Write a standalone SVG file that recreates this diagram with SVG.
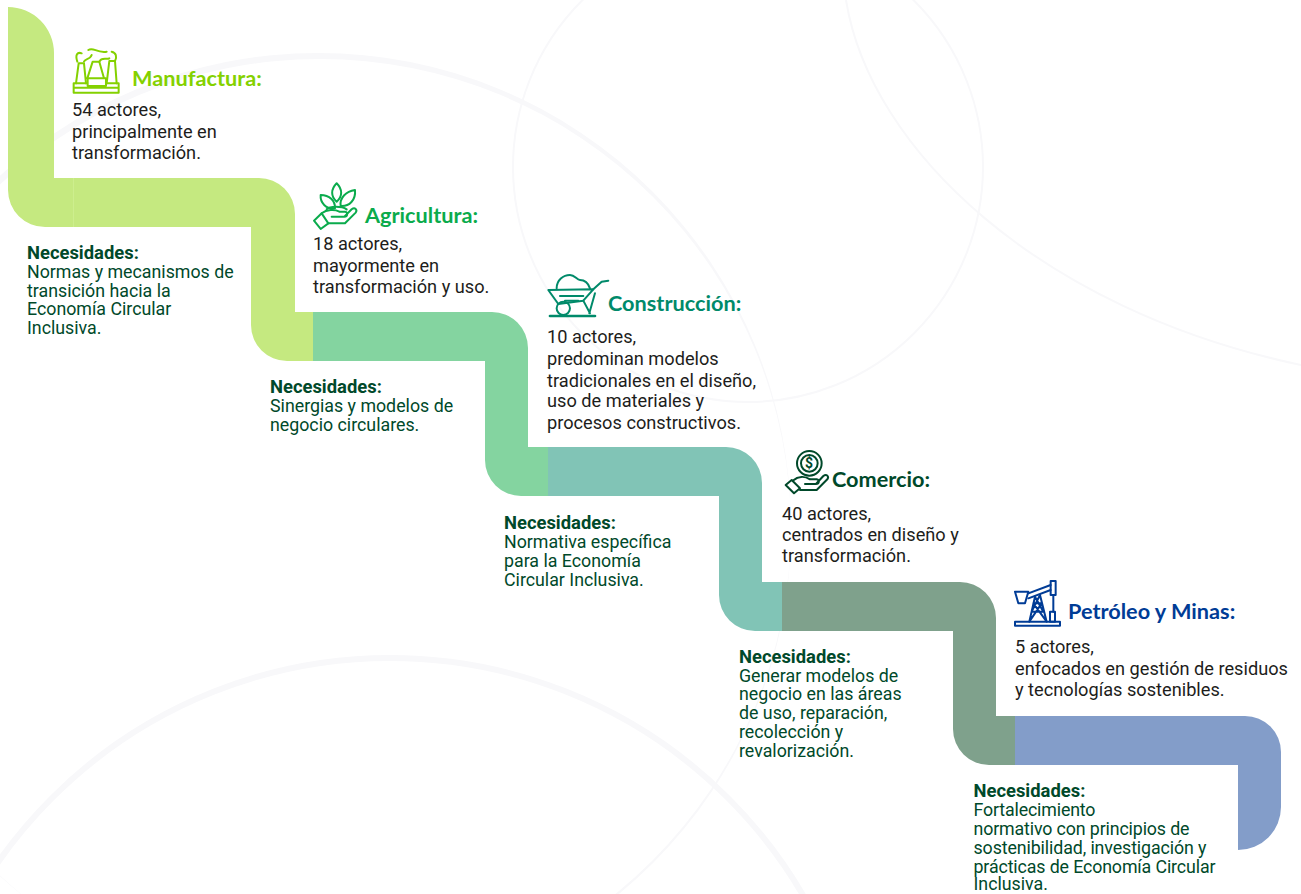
<svg xmlns="http://www.w3.org/2000/svg" width="1301" height="894" viewBox="0 0 1301 894">
<style>
.arc{fill:none;stroke:#f8f8fa}
.t{font-family:"Lato","Liberation Sans",sans-serif;font-weight:700;font-size:21.7px}
.b{font-family:"Roboto","Liberation Sans",sans-serif;font-size:18.2px;fill:#1d1d1b}
.n{font-family:"Roboto","Liberation Sans",sans-serif;font-size:17.8px;fill:#00492a}
.h{font-weight:700;font-size:18.4px}
.i{fill:none;stroke-linejoin:round;stroke-linecap:round;stroke-width:6}
</style>
<rect width="1301" height="894" fill="#fff"/>
<g id="background">
<path d="M-155,526a473,473 0 1,0 946,0a473,473 0 1,0 -946,0ZM-151,530a471,471 0 1,0 942,0a471,471 0 1,0 -942,0Z" fill="#f8f8fa" fill-rule="evenodd"/>
<circle class="arc" cx="748" cy="167" r="235" stroke-width="2"/>
<path class="arc" d="M846,0C870,150 1040,310 1301,365" stroke-width="2"/>
<circle class="arc" cx="390" cy="1136" r="478" stroke-width="6"/>
</g>
<g id="connectors">
<path d="M8,7A46,46 0 0 1 54,53V178H259A36,36 0 0 1 295,214V312H313V361H287A36,36 0 0 1 251,325V227H45A37,37 0 0 1 8,190Z" fill="#c5e980"/>
<path d="M313,312H492A36,36 0 0 1 528,348V447H548V496H521A36,36 0 0 1 485,460V361H313Z" fill="#84d4a0"/>
<path d="M548,447H726A36,36 0 0 1 762,483V582H782V631H755A36,36 0 0 1 719,595V496H548Z" fill="#81c4b6"/>
<path d="M782,582H960A36,36 0 0 1 996,618V716H1015V765H989A36,36 0 0 1 953,729V631H782Z" fill="#7fa18c"/>
<path d="M1015,716H1245A36,36 0 0 1 1281,752V807A43,43 0 0 1 1238,850V765H1015Z" fill="#839dc9"/>
<path d="M73.500,178V227" stroke="#cdee8e" stroke-width="1"/>
</g>
<g id="manufactura">
<g transform="scale(.3333)" class="i" stroke="#84d100">
<path d="M221,250H356V278H221ZM221,263H356"/>
<path d="M228,250L236,190H252L258,250M262,235L278,185H298L312,235M320,250L328,183H345L350,250"/>
<rect x="263" y="235" width="55" height="23" fill="#fff"/>
<path d="M232,185C225,165 232,155 245,160M252,185C255,175 270,180 275,165M265,150C280,140 290,160 320,155M298,185C305,170 320,180 328,175M345,183C352,170 348,158 335,155"/>
</g>
<text class="t" x="132" y="86" fill="#84d100">Manufactura:</text>
<text class="b" x="72" y="116">54 actores,</text>
<text class="b" x="72" y="138">principalmente en</text>
<text class="b" x="72" y="159">transformación.</text>
<text class="n h" x="27" y="259">Necesidades:</text>
<text class="n" x="27" y="278">Normas y mecanismos de</text>
<text class="n" x="27" y="297">transición hacia la</text>
<text class="n" x="27" y="315">Economía Circular</text>
<text class="n" x="27" y="334">Inclusiva.</text>
</g>
<g id="agricultura">
<g transform="translate(300 170) scale(.3333)" class="i" stroke="#0aab4c">
<path d="M110,40C92,58 92,80 110,95C128,80 128,58 110,40Z"/>
<path d="M62,75C60,98 78,118 105,115C106,92 88,75 62,75Z"/>
<path d="M165,60C138,64 118,84 122,108C148,110 168,90 165,60Z"/>
<path d="M80,118C90,108 125,108 140,118"/>
<path d="M42,152L65,130L85,160L62,177Z"/>
<path d="M65,130C80,118 105,118 118,125H135C145,128 143,140 133,140H95M133,140L155,118C165,110 173,120 167,128L135,160H85"/>
</g>
<text class="t" x="365" y="223" fill="#0aab4c">Agricultura:</text>
<text class="b" x="313" y="250">18 actores,</text>
<text class="b" x="313" y="272">mayormente en</text>
<text class="b" x="313" y="293">transformación y uso.</text>
<text class="n h" x="270" y="393">Necesidades:</text>
<text class="n" x="270" y="412">Sinergias y modelos de</text>
<text class="n" x="270" y="431">negocio circulares.</text>
</g>
<g id="construccion">
<g transform="translate(300 170) scale(.3333)" class="i" stroke="#008a6a">
<path d="M745,360L880,358L850,392L775,402Z"/>
<path d="M880,358L905,335L925,332"/>
<path d="M770,355C770,330 790,315 810,315C825,315 830,330 840,330C855,330 865,340 870,355"/>
<circle cx="790" cy="415" r="20"/>
<path d="M850,392L870,430M885,370L868,430M780,378H850M795,392H835"/>
<path d="M750,438H885" stroke-width="8"/>
</g>
<text class="t" x="608" y="311" fill="#008a6a">Construcción:</text>
<text class="b" x="547" y="343">10 actores,</text>
<text class="b" x="547" y="365">predominan modelos</text>
<text class="b" x="547" y="387">tradicionales en el diseño,</text>
<text class="b" x="547" y="407">uso de materiales y</text>
<text class="b" x="547" y="429">procesos constructivos.</text>
<text class="n h" x="504" y="529">Necesidades:</text>
<text class="n" x="504" y="548">Normativa específica</text>
<text class="n" x="504" y="567">para la Economía</text>
<text class="n" x="504" y="586">Circular Inclusiva.</text>
</g>
<g id="comercio">
<g transform="translate(770 440) scale(.3333)" class="i" stroke="#00492a">
<circle cx="118" cy="70" r="37"/>
<circle cx="118" cy="70" r="25"/>
<path d="M47,135L65,120L90,145L72,160Z"/>
<path d="M68,122C85,108 105,108 120,118H140C150,120 148,132 138,132H105M138,132L160,108C170,100 178,110 172,118L140,150H90"/>
</g>
<text x="809" y="468" text-anchor="middle" font-family="Roboto,sans-serif" font-weight="700" font-size="14" fill="#00492a">$</text>
<text class="t" x="832" y="487" fill="#00492a">Comercio:</text>
<text class="b" x="782" y="520">40 actores,</text>
<text class="b" x="782" y="541">centrados en diseño y</text>
<text class="b" x="782" y="562">transformación.</text>
<text class="n h" x="739" y="663">Necesidades:</text>
<text class="n" x="739" y="682">Generar modelos de</text>
<text class="n" x="739" y="700">negocio en las áreas</text>
<text class="n" x="739" y="719">de uso, reparación,</text>
<text class="n" x="739" y="738">recolección y</text>
<text class="n" x="739" y="757">revalorización.</text>
</g>
<g id="petroleo">
<g transform="translate(1000 570) scale(.3333)" class="i" stroke="#003c96">
<path d="M45,155H180V167H45Z"/>
<path d="M45,65H85L75,100H55Z"/>
<path d="M85,70L152,45M85,85L152,60"/>
<rect x="152" y="33" width="15" height="42"/>
<path d="M160,75V125"/>
<rect x="150" y="125" width="15" height="30"/>
<path d="M88,155L105,80M140,155L120,75M95,125H130M100,100H125M88,155L125,100M140,155L100,100M95,125L120,75M130,125L105,80"/>
</g>
<text class="t" x="1068" y="619" fill="#003c96">Petróleo y Minas:</text>
<text class="b" x="1015" y="653">5 actores,</text>
<text class="b" x="1015" y="675">enfocados en gestión de residuos</text>
<text class="b" x="1015" y="696">y tecnologías sostenibles.</text>
<text class="n h" x="973.500" y="797">Necesidades:</text>
<text class="n" x="973.500" y="816" textLength="122" lengthAdjust="spacing">Fortalecimiento</text>
<text class="n" x="973.500" y="835" textLength="216" lengthAdjust="spacing">normativo con principios de</text>
<text class="n" x="973.500" y="854" textLength="233" lengthAdjust="spacing">sostenibilidad, investigación y</text>
<text class="n" x="973.500" y="873" textLength="242" lengthAdjust="spacing">prácticas de Economía Circular</text>
<text class="n" x="973.500" y="890">Inclusiva.</text>
</g>
</svg>
